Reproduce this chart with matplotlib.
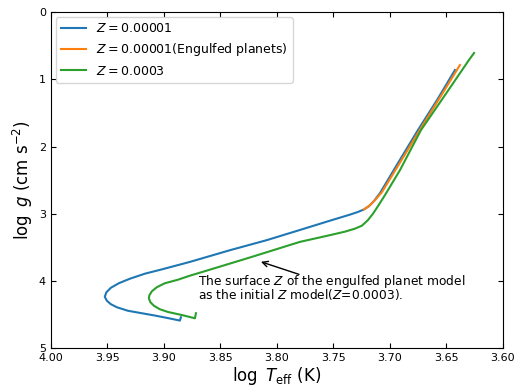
import matplotlib
matplotlib.use("Agg")
import matplotlib.pyplot as plt

# Z = 0.00001 track (log Teff, log g), starting at the hook
teff_z1 = [3.8848, 3.8857, 3.8963, 3.9079, 3.9194, 3.9318, 3.9415, 3.9468, 3.9504,
           3.9522, 3.9508, 3.9468, 3.9398, 3.9300, 3.9167, 3.9017, 3.8769, 3.8414,
           3.8089, 3.7794, 3.7528, 3.7351, 3.7280, 3.7227, 3.7183, 3.7138, 3.7085,
           3.6926, 3.6749, 3.6580, 3.6421]
logg_z1 = [4.536, 4.585, 4.548, 4.510, 4.476, 4.439, 4.387, 4.342, 4.290,
           4.231, 4.164, 4.097, 4.030, 3.963, 3.888, 3.824, 3.713, 3.539,
           3.390, 3.238, 3.100, 3.010, 2.970, 2.933, 2.884, 2.807, 2.690,
           2.244, 1.753, 1.307, 0.860]

# Z = 0.00001 with engulfed planets (splits off after the subgiant knee)
teff_eng = [3.7227, 3.7178, 3.7125, 3.7068, 3.6908, 3.6731, 3.6554, 3.6377]
logg_eng = [2.933, 2.876, 2.787, 2.676, 2.237, 1.746, 1.269, 0.786]

# Z = 0.0003 track
teff_z3 = [3.8715, 3.8724, 3.8831, 3.8963, 3.9034, 3.9087, 3.9118, 3.9132, 3.9127,
           3.9105, 3.9061, 3.8990, 3.8875, 3.8769, 3.8636, 3.8237, 3.7794, 3.7528,
           3.7395, 3.7307, 3.7245, 3.7192, 3.7147, 3.7103, 3.7041, 3.6908, 3.6722,
           3.6509, 3.6297, 3.6252]
logg_z3 = [4.476, 4.551, 4.506, 4.457, 4.417, 4.365, 4.313, 4.253, 4.208,
           4.149, 4.089, 4.030, 3.978, 3.918, 3.851, 3.647, 3.415, 3.315,
           3.263, 3.219, 3.174, 3.092, 2.996, 2.884, 2.720, 2.348, 1.753,
           1.232, 0.711, 0.607]

xticks = [4.00, 3.95, 3.90, 3.85, 3.80, 3.75, 3.70, 3.65, 3.60]
yticks = [0, 1, 2, 3, 4, 5]

fig, ax = plt.subplots(figsize=(5.24, 3.92), dpi=100)
ax.plot(teff_z1, logg_z1, color="C0", lw=1.5, label=r"$Z=0.00001$")
ax.plot(teff_eng, logg_eng, color="C1", lw=1.5, label=r"$Z=0.00001$(Engulfed planets)")
ax.plot(teff_z3, logg_z3, color="C2", lw=1.5, label=r"$Z=0.0003$")

# note text (baseline of the last line) and its arrow
ax.text(3.8698, 4.263, "The surface $Z$ of the engulfed planet model\nas the initial $Z$ model($Z$=0.0003).",
        fontsize=8.8, va="baseline", ha="left", linespacing=0.72)
ax.annotate("", xy=(3.8163, 3.698), xytext=(3.7779, 3.911),
            arrowprops=dict(arrowstyle="->", color="black", lw=1))

ax.set_xlim(4.00, 3.60)
ax.set_ylim(5, 0)
ax.set_xticks(xticks)
ax.set_xticklabels([f"{t:.2f}" for t in xticks])
ax.set_yticks(yticks)
ax.tick_params(direction="in", top=True, right=True, labelsize=8)
ax.set_xlabel(r"$\log\ T_{\rm eff}$ (K)", fontsize=12, labelpad=1)
ax.set_ylabel(r"$\log\ g$ (cm s$^{-2}$)", fontsize=12, labelpad=3)
ax.legend(loc="upper left", fontsize=9, handlelength=2.0, borderaxespad=0.4)

fig.subplots_adjust(left=0.097, right=0.959, top=0.969, bottom=0.111)
fig.savefig("out.png", dpi=100)
